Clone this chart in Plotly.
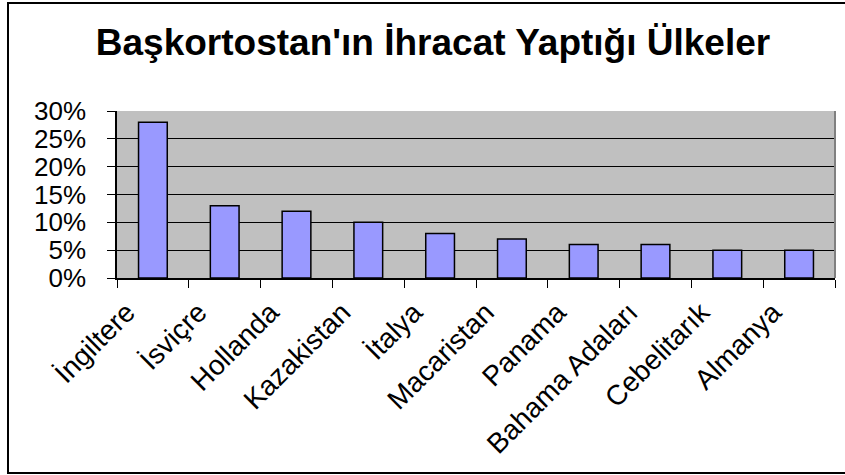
import plotly.graph_objects as go

countries = ["İngiltere", "İsviçre", "Hollanda", "Kazakistan", "İtalya",
             "Macaristan", "Panama", "Bahama Adaları", "Cebelitarık", "Almanya"]
shares = [0.28, 0.13, 0.12, 0.10, 0.08, 0.07, 0.06, 0.06, 0.05, 0.05]
y_ticks = [0, 0.05, 0.10, 0.15, 0.20, 0.25, 0.30]
y_tick_labels = ["0%", "5%", "10%", "15%", "20%", "25%", "30%"]
title_text = "Başkortostan'ın İhracat Yaptığı Ülkeler"

W, H = 845, 475
L, R, T, B = 117, 10, 111, 197
pw, ph = W - L - R, H - T - B

def px_x(p):
    return (p - L) / pw

def px_y(p):
    return (H - B - p) / ph

fig = go.Figure()
fig.add_trace(go.Bar(
    x=countries, y=shares, width=0.4,
    marker=dict(color="#9999FF", line=dict(color="black", width=1.5)),
))

fig.update_layout(
    width=W, height=H,
    margin=dict(l=L, r=R, t=T, b=B, autoexpand=False),
    paper_bgcolor="white",
    plot_bgcolor="#C0C0C0",
    showlegend=False,
    font=dict(family="Liberation Sans, Arial, sans-serif", color="black"),
    title=dict(text="<b>" + title_text + "</b>", font=dict(size=37, color="black"),
               x=433 / W, xref="container", xanchor="center",
               y=1 - 42 / H, yref="container", yanchor="middle"),
    xaxis=dict(
        type="category", tickson="boundaries", ticks="outside", ticklen=8,
        tickcolor="black", tickwidth=1, showline=True, linecolor="black", linewidth=1.5,
        tickangle=-45, tickfont=dict(size=28), showgrid=False, automargin=False,
        ticklabelshift=-26, ticklabelstandoff=5,
    ),
    yaxis=dict(
        range=[0, 0.30], tickvals=y_ticks, ticktext=y_tick_labels,
        ticks="outside", ticklen=8, tickcolor="black", tickwidth=1,
        showline=True, linecolor="black", linewidth=1.5,
        showgrid=True, gridcolor="black", gridwidth=1,
        tickfont=dict(size=26), zeroline=False, automargin=False,
        ticklabelstandoff=16,
    ),
    shapes=[
        dict(type="line", xref="paper", yref="paper", x0=1, x1=1, y0=0, y1=1,
             line=dict(color="#808080", width=2)),
        dict(type="rect", xref="paper", yref="paper",
             x0=px_x(8), x1=px_x(850), y0=px_y(473), y1=px_y(3),
             line=dict(color="black", width=2), fillcolor="rgba(0,0,0,0)"),
    ],
)

fig.write_html("out.html", config={"displayModeBar": False},
               post_script="document.body.style.margin='0';")
